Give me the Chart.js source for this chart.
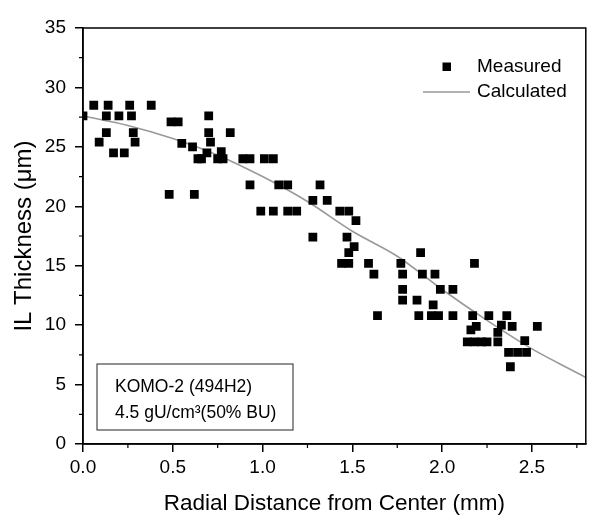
<!DOCTYPE html>
<html>
<head>
<meta charset="utf-8">
<title>IL Thickness vs Radial Distance</title>
<script src="https://cdn.jsdelivr.net/npm/chart.js@4.4.1/dist/chart.umd.min.js"></script>
<style>
    html, body { margin: 0; padding: 0; background: #fff; }
    #wrap { width: 592px; height: 521px; }
</style>
</head>
<body>
<div id="wrap"><canvas id="ilChart" width="592" height="521"></canvas></div>
<script>
// Measured points
const measuredX = [
    0.00, 0.06, 0.14, 0.26, 0.38, 0.13, 0.20, 0.27, 0.13, 0.28,
    0.09, 0.29, 0.17, 0.23, 0.49, 0.53, 0.48, 0.62, 0.70, 0.70,
    0.82, 0.55, 0.61, 0.71, 0.64, 0.66, 0.69, 0.77, 0.75, 0.78,
    0.89, 0.93, 1.01, 1.06, 0.93, 1.09, 1.14, 1.32, 0.99, 1.06,
    1.14, 1.19, 1.28, 1.36, 1.43, 1.48, 1.52, 1.28, 1.47, 1.51,
    1.48, 1.44, 1.48, 1.59, 1.62, 1.77, 1.78, 1.78, 1.88, 2.18,
    1.89, 1.96, 1.99, 2.06, 1.78, 1.86, 1.95, 1.64, 1.87, 1.94,
    1.98, 2.06, 2.17, 2.26, 2.36, 2.19, 2.16, 2.33, 2.31, 2.39,
    2.53, 2.14, 2.18, 2.22, 2.25, 2.31, 2.46, 2.37, 2.42, 2.47,
    2.38
];
const measuredY = [
    27.6, 28.5, 28.5, 28.5, 28.5, 27.6, 27.6, 27.6, 26.2, 26.2,
    25.4, 25.4, 24.5, 24.5, 27.1, 27.1, 21.0, 21.0, 27.6, 26.2,
    26.2, 25.3, 25.0, 25.4, 24.0, 24.0, 24.5, 24.6, 24.0, 24.0,
    24.0, 24.0, 24.0, 24.0, 21.8, 21.8, 21.8, 21.8, 19.6, 19.6,
    19.6, 19.6, 20.5, 20.5, 19.6, 19.6, 18.8, 17.4, 17.4, 16.6,
    16.1, 15.2, 15.2, 15.2, 14.3, 15.2, 14.3, 13.0, 16.1, 15.2,
    14.3, 14.3, 13.0, 13.0, 12.1, 12.1, 11.7, 10.8, 10.8, 10.8,
    10.8, 10.8, 10.8, 10.8, 10.8, 9.9, 9.6, 10.0, 9.4, 9.9,
    9.9, 8.6, 8.6, 8.6, 8.6, 8.6, 8.7, 7.7, 7.7, 7.7,
    6.5
];

// Calculated curve
const calcX = [0, 0.25, 0.5, 0.75, 1.0, 1.25, 1.5, 1.75, 2.0, 2.25, 2.5, 2.75, 2.8];
const calcY = [27.6, 26.8, 25.7, 24.3, 22.5, 20.4, 17.9, 15.8, 13.0, 10.4, 8.0, 6.0, 5.6];

// Axis ticks
const xTicks = [0, 0.5, 1.0, 1.5, 2.0, 2.5];
const xMinorTicks = [0.25, 0.75, 1.25, 1.75, 2.25, 2.75];
const yTicks = [0, 5, 10, 15, 20, 25, 30, 35];
const yMinorTicks = [2.5, 7.5, 12.5, 17.5, 22.5, 27.5, 32.5];

const legendLabels = ['Measured', 'Calculated'];
const noteLines = ['KOMO-2 (494H2)', '4.5 gU/cm\u00B3(50% BU)'];

const FONT = "'Liberation Sans', Arial, sans-serif";

// Frame, minor ticks, legend and note box
const decorPlugin = {
    id: 'decor',
    afterDraw(chart) {
        const ctx = chart.ctx;
        const area = chart.chartArea;
        const xs = chart.scales.x;
        const ys = chart.scales.y;
        ctx.save();

        // box around the plot
        ctx.strokeStyle = '#000';
        ctx.lineWidth = 1.5;
        ctx.strokeRect(area.left, area.top, area.right - area.left, area.bottom - area.top);

        // minor ticks
        ctx.lineWidth = 1.2;
        ctx.beginPath();
        xMinorTicks.forEach(v => {
            const px = xs.getPixelForValue(v);
            ctx.moveTo(px, area.bottom);
            ctx.lineTo(px, area.bottom + 4);
        });
        yMinorTicks.forEach(v => {
            const py = ys.getPixelForValue(v);
            ctx.moveTo(area.left, py);
            ctx.lineTo(area.left - 4, py);
        });
        ctx.stroke();

        // legend
        ctx.font = '19px ' + FONT;
        ctx.textBaseline = 'middle';
        ctx.fillStyle = '#000';
        ctx.fillRect(442.5, 62.5, 8.5, 8.5);
        ctx.fillText(legendLabels[0], 477, 67);
        ctx.strokeStyle = '#999';
        ctx.lineWidth = 1.6;
        ctx.beginPath();
        ctx.moveTo(423, 92);
        ctx.lineTo(470, 92);
        ctx.stroke();
        ctx.fillText(legendLabels[1], 477, 92);

        // note box
        ctx.strokeStyle = '#222';
        ctx.lineWidth = 1;
        ctx.strokeRect(97, 364, 196, 66);
        ctx.font = '17.5px ' + FONT;
        ctx.fillText(noteLines[0], 115, 387);
        ctx.fillText(noteLines[1], 115, 413);

        ctx.restore();
    }
};

const ctx = document.getElementById('ilChart').getContext('2d');
new Chart(ctx, {
    type: 'scatter',
    data: {
        datasets: [{
            label: legendLabels[0],
            data: measuredX.map((x, i) => ({ x: x, y: measuredY[i] })),
            pointStyle: 'rect',
            pointRadius: 6.2,
            pointHoverRadius: 6.2,
            backgroundColor: '#000',
            borderWidth: 0,
            order: 1
        }, {
            label: legendLabels[1],
            data: calcX.map((x, i) => ({ x: x, y: calcY[i] })),
            showLine: true,
            pointRadius: 0,
            borderColor: '#999',
            borderWidth: 1.6,
            cubicInterpolationMode: 'monotone',
            order: 2
        }]
    },
    options: {
        responsive: false,
        animation: false,
        layout: { padding: { top: 28, right: 1, left: 0, bottom: 0 } },
        plugins: {
            legend: { display: false },
            tooltip: { enabled: false }
        },
        scales: {
            x: {
                type: 'linear',
                min: 0,
                max: 2.8,
                afterBuildTicks: s => { s.ticks = xTicks.map(v => ({ value: v })); },
                afterFit: s => { s.height = 77; },
                ticks: {
                    color: '#000',
                    padding: 4,
                    maxRotation: 0,
                    font: { family: FONT, size: 19 },
                    callback: v => v.toFixed(1)
                },
                grid: { drawOnChartArea: false, tickLength: 8, color: '#000', lineWidth: 1.5 },
                border: { color: '#000', width: 1.5 },
                title: {
                    display: true,
                    text: 'Radial Distance from Center (mm)',
                    color: '#000',
                    font: { family: FONT, size: 22.5 },
                    padding: { top: 0, bottom: 4 }
                }
            },
            y: {
                type: 'linear',
                min: 0,
                max: 35,
                afterBuildTicks: s => { s.ticks = yTicks.map(v => ({ value: v })); },
                afterFit: s => { s.width = 83; },
                ticks: {
                    color: '#000',
                    padding: 9,
                    font: { family: FONT, size: 19 }
                },
                grid: { drawOnChartArea: false, tickLength: 8, color: '#000', lineWidth: 1.5 },
                border: { color: '#000', width: 1.5 },
                title: {
                    display: true,
                    text: 'IL Thickness (\u03BCm)',
                    color: '#000',
                    font: { family: FONT, size: 24 },
                    padding: { top: 10, bottom: 0 }
                }
            }
        }
    },
    plugins: [decorPlugin]
});
</script>
</body>
</html>
